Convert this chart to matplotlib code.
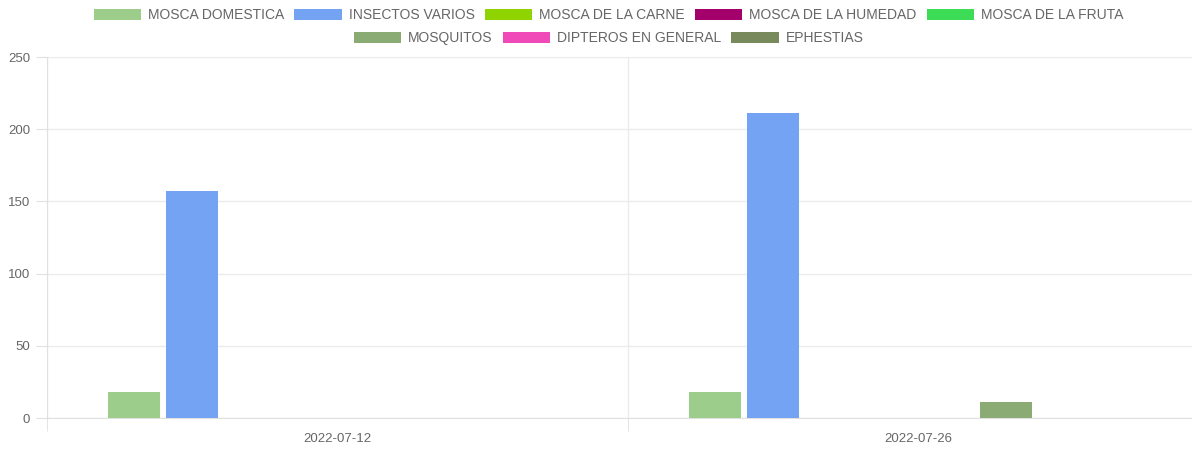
import numpy as np
import matplotlib.pyplot as plt
from matplotlib.patches import Patch

plt.rcParams['font.family'] = ['Liberation Sans', 'DejaVu Sans']

fechas = ["2022-07-12", "2022-07-26"]
series = ["MOSCA DOMESTICA", "INSECTOS VARIOS", "MOSCA DE LA CARNE",
          "MOSCA DE LA HUMEDAD", "MOSCA DE LA FRUTA", "MOSQUITOS",
          "DIPTEROS EN GENERAL", "EPHESTIAS"]
mosca_domestica = [18, 18]
insectos_varios = [157, 211]
mosca_carne = [0, 0]
mosca_humedad = [0, 0]
mosca_fruta = [0, 0]
mosquitos = [0, 11]
dipteros = [0, 0]
ephestias = [0, 0]
colores = ["#9ccd8b", "#74a3f3", "#8fd400", "#a3006b", "#3ddc56",
           "#8aab73", "#f049b8", "#78895c"]

valores = [mosca_domestica, insectos_varios, mosca_carne, mosca_humedad,
           mosca_fruta, mosquitos, dipteros, ephestias]

fig = plt.figure(figsize=(11.92, 4.49), dpi=100)
# the chart area runs past the right edge of the picture
ax = fig.add_axes([47 / 1192, 0.069, 1162 / 1192, 0.804])

x = np.arange(len(fechas))
slot = 0.8 / len(series)
for i, (nombre, v) in enumerate(zip(series, valores)):
    pos = x - 0.4 + slot * (i + 0.5)
    ax.bar(pos, v, width=slot * 0.9, color=colores[i], zorder=3)

ax.set_xlim(-0.5, 1.5)
ax.set_ylim(0, 250)
ax.set_yticks(np.arange(0, 251, 50))
ax.set_xticks(x)
ax.set_xticklabels(fechas)
ax.set_xticks([-0.5, 0.5, 1.5], minor=True)

ax.grid(axis="y", color="#ebebeb", linewidth=1, zorder=0)
ax.grid(axis="x", which="minor", color="#ebebeb", linewidth=1, zorder=0)
ax.tick_params(axis="x", which="major", length=0, pad=11, labelsize=9.5, labelcolor="#666666")
ax.tick_params(axis="x", which="minor", length=9, color="#e0e0e0")
ax.tick_params(axis="y", length=8, color="#e0e0e0", labelsize=9.5, labelcolor="#666666", pad=4)
for s in ["top", "right"]:
    ax.spines[s].set_visible(False)
ax.spines["left"].set_color("#e0e0e0")
ax.spines["bottom"].set_color("#e0e0e0")

handles = [Patch(facecolor=c, edgecolor="none") for c in colores]
kw = dict(frameon=False, fontsize=10, handlelength=3.4, handleheight=0.85,
          handletextpad=0.5, columnspacing=0.75, labelcolor="#666666",
          borderpad=0, borderaxespad=0)
cx = 608.5 / 1192
fig.legend(handles[:5], series[:5], loc="center", bbox_to_anchor=(cx, 1 - 15 / 449),
           ncol=5, **kw)
fig.legend(handles[5:], series[5:], loc="center", bbox_to_anchor=(cx, 1 - 38 / 449),
           ncol=3, **kw)

plt.savefig("out.png", dpi=100)
